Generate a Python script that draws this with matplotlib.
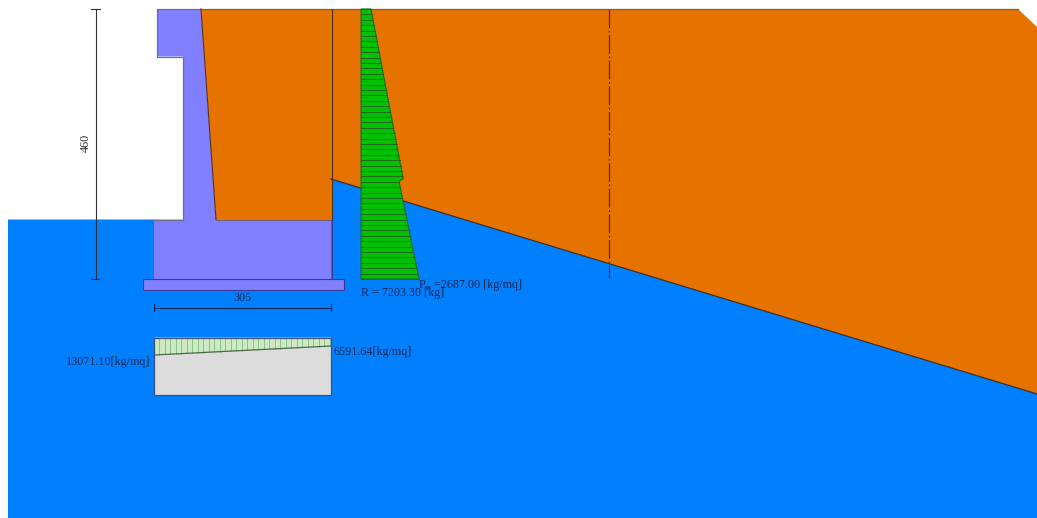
import matplotlib
matplotlib.use("Agg")
import matplotlib.pyplot as plt
from matplotlib.patches import Polygon
import numpy as np

# everything in pixels
ground = [(8, 219.5), (154, 219.5), (154, 279), (331, 279), (331, 179), (1037, 394), (1037, 518), (8, 518)]
fill_back = [(331, 9), (1018, 9), (1037, 27), (1037, 394), (331, 179)]
fill_wall = [(201, 9), (332, 9), (332, 219.5), (216, 219.5)]
wall = [(157, 9), (201, 9), (216, 219.5), (331, 219.5), (331, 279), (154, 279), (154, 219.5), (183, 219.5), (183, 56.5), (157, 56.5)]
wall_edge_x = [201, 157, 157, 183, 183, 154]
wall_edge_y = [9, 9, 56.5, 56.5, 219.5, 219.5]
footing = [(142.5, 279), (344, 279), (344, 290), (142.5, 290)]
soil_box = [(154, 337.5), (331, 337.5), (331, 395), (154, 395)]
stress_box = [(154, 337.5), (331, 337.5), (331, 346), (154, 355)]

# earth pressure profile, depth against right edge
press_y = [9, 178, 179, 181, 279]
press_x = [371, 403, 403, 399, 419]
press_left = 361
press_lines = 50

blue = "#0080ff"
orange = "#e67300"
violet = "#8080ff"
green = "#00c000"
txt = "#14264f"

fig = plt.figure(figsize=(10.37, 5.18), dpi=100)
ax = fig.add_axes([0, 0, 1, 1])
ax.set_xlim(0, 1037)
ax.set_ylim(518, 0)
ax.axis("off")

ax.add_patch(Polygon(ground, fc=blue, ec="none"))
ax.add_patch(Polygon(fill_back, fc=orange, ec="none"))
ax.add_patch(Polygon(fill_wall, fc=orange, ec="none"))
ax.add_patch(Polygon(wall, fc=violet, ec="none"))
ax.add_patch(Polygon(footing, fc=violet, ec="#3a3a90", lw=0.8))

# outlines of wall and back fill
ax.plot(wall_edge_x, wall_edge_y, color="#70708a", lw=0.9)
ax.plot([201, 1018], [9, 9], color="#8a5a30", lw=0.9)
ax.plot([201, 216], [9, 219.5], color="#5a3020", lw=0.8)
ax.plot([216, 331], [219.5, 219.5], color="#6a5050", lw=0.5)
ax.plot([331, 1037], [179, 394], color="#3a3030", lw=0.9)
ax.plot([331.5, 331.5], [9, 219.5], color="#4a3020", lw=0.8)
ax.plot([331.5, 331.5], [219.5, 279], color="#3a3a90", lw=0.8)

# pressure diagram
profile = [(press_left, 9)] + list(zip(press_x, press_y)) + [(press_left, 279)]
ax.add_patch(Polygon(profile, fc=green, ec="#1f6a1f", lw=0.8, zorder=3))
for y in np.linspace(9, 279, press_lines + 1):
    ax.plot([press_left, np.interp(y, press_y, press_x)], [y, y], color="#1f6a1f", lw=0.7, zorder=4)

# soil stress box under the footing
ax.add_patch(Polygon(soil_box, fc="#dcdcdc", ec="none"))
ax.add_patch(Polygon(stress_box, fc="#cdeac5", ec="none"))
for x in np.arange(159, 331, 5.5):
    ax.plot([x, x], [338, np.interp(x, [154, 331], [355, 346])], color="#8cc08a", lw=0.7)
ax.plot([154, 331], [355, 346], color="#4a6a4a", lw=0.9)
ax.plot([154, 331, 331, 154, 154], [337.5, 337.5, 395, 395, 337.5], color="#40507a", lw=0.9)

# dimension lines
ax.plot([95.5, 95.5], [9, 279], color="#303040", lw=0.8)
ax.plot([91, 100], [9, 9], color="#303040", lw=0.8)
ax.plot([91, 100], [279, 279], color="#303040", lw=0.8)
ax.plot([154, 331], [307.5, 307.5], color="#14264f", lw=0.8)
ax.plot([154, 154], [304, 311], color="#14264f", lw=0.8)
ax.plot([331, 331], [304, 311], color="#14264f", lw=0.8)

# section line through the fill
ax.plot([608.5, 608.5], [9, 278], color="#6a2c10", lw=0.9, dashes=(15, 2, 1.5, 2))

font = dict(family="Liberation Serif", fontsize=8.7)
ax.text(86, 143, "460", rotation=90, ha="center", va="center", color="#303030", **font)
ax.text(242.5, 298, "305", ha="center", va="center", color=txt, **font)
ax.text(150, 362, "13071.10[kg/mq]", ha="right", va="center", color=txt, **font)
ax.text(334, 352.5, "6591.64[kg/mq]", ha="left", va="center", color=txt, **font)
ax.text(361, 293, "R = 7203.30 [kg]", ha="left", va="center", color=txt, **font)
ax.text(419, 285, "P", ha="left", va="center", color=txt, **font)
ax.text(425, 288, "ss", ha="left", va="center", color=txt, family="Liberation Serif", fontsize=6, fontweight="bold")
ax.text(434, 285, "=2687.00 [kg/mq]", ha="left", va="center", color=txt, **font)

fig.savefig("out.png", dpi=100)
